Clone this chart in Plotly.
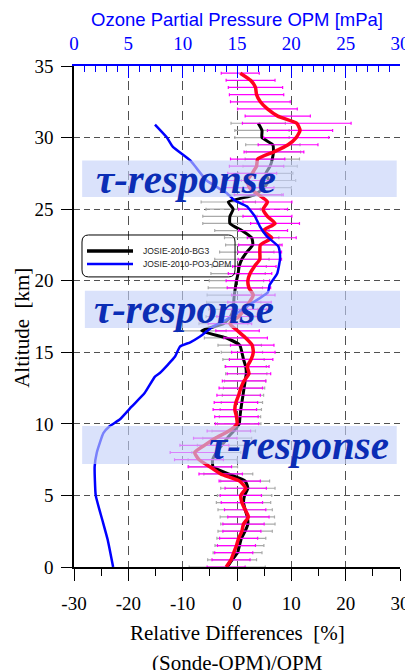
import plotly.graph_objects as go

# ---------------- data ----------------
# Relative differences (Sonde-OPM)/OPM [%] of the second (red) sonde
RED_ALT = [0.0, 0.5, 1.0, 1.5, 2.0, 2.5, 3.0, 3.5, 4.0, 4.5, 5.0, 5.5, 6.0, 6.5, 7.0, 7.5, 8.0, 8.5, 9.0, 9.5,
           10.0, 10.5, 11.0, 11.5, 12.0, 12.5, 13.0, 13.5, 14.0, 14.5, 15.0, 15.5, 16.0, 16.5, 17.0, 17.5, 18.0, 18.5, 19.0, 19.5,
           20.0, 20.5, 21.0, 21.5, 22.0, 22.5, 23.0, 23.5, 24.0, 24.5, 25.0, 25.5, 26.0, 26.5, 27.0, 27.5, 28.0, 28.5, 29.0, 29.5,
           30.0, 30.5, 31.0, 31.5, 32.0, 32.5, 33.0, 33.5, 34.0, 34.5]
RED_DIFF = [-2.0, -1.1, -0.6, -0.1, 0.3, 0.9, 1.2, 2.1, 1.5, 0.9, 0.7, 1.6, 0.5, -3.0, -5.0, -7.0, -7.8, -6.0, -4.0, -1.5,
            0.0, -0.1, -0.4, -0.2, 0.3, 0.7, 1.3, 2.2, 1.9, 2.6, 3.0, 2.8, 1.6, 0.1, -1.3, 0.3, 1.4, 2.3, 3.0, 2.2,
            2.0, 2.4, 3.2, 4.2, 4.2, 4.3, 6.4, 4.8, 7.0, 5.6, 4.8, 5.6, 4.0, 2.3, 1.9, 2.8, 3.6, 3.8, 6.8, 9.4,
            10.9, 11.6, 11.0, 7.5, 5.6, 4.3, 3.6, 3.4, 2.5, 0.6]
RED_ERR = [3.5, 3.5, 3.5, 3.5, 3.5, 3.5, 3.8, 3.8, 3.8, 3.8, 3.8, 3.8, 3.8, 4.0, 4.0, 4.5, 4.5, 4.5, 4.0, 4.0,
           4.0, 4.0, 4.0, 4.0, 4.0, 4.0, 4.0, 4.0, 4.0, 4.0, 4.0, 4.0, 4.0, 4.0, 4.0, 4.0, 4.0, 4.0, 4.0, 4.0,
           4.0, 4.0, 4.0, 4.0, 4.0, 4.0, 4.5, 4.5, 4.5, 4.5, 4.5, 4.5, 4.5, 4.5, 4.5, 4.5, 5.0, 5.0, 5.5, 5.5,
           6.0, 6.0, 10.0, 6.0, 5.5, 5.5, 5.0, 5.0, 4.5, 3.5]

# JOSIE-2010-BG3 relative differences [%]
BG3_ALT = [0.0, 0.5, 1.0, 1.5, 2.0, 2.5, 3.0, 3.5, 4.0, 4.5, 5.0, 5.5, 6.0, 6.5, 7.0, 7.5, 8.0, 8.5, 9.0, 9.5,
           10.0, 10.5, 11.0, 11.5, 12.0, 12.5, 13.0, 13.5, 14.0, 14.5, 15.0, 15.5, 16.0, 16.5, 17.0, 17.5, 18.0, 18.5, 19.0, 19.5,
           20.0, 20.5, 21.0, 21.5, 22.0, 22.5, 23.0, 23.5, 24.0, 24.5, 25.0, 25.5, 26.0, 26.5, 27.0, 27.5, 28.0, 28.5, 29.0, 29.5,
           30.0, 30.5, 31.0]
BG3_DIFF = [-1.8, -0.9, 0.1, 0.45, 0.8, 1.5, 2.0, 1.9, 1.5, 1.2, 1.4, 2.0, 1.5, -1.6, -4.4, -4.5, -3.8, -2.8, -1.8, -0.6,
            0.4, 0.55, 0.7, 0.9, 1.1, 1.3, 1.5, 1.7, 1.6, 1.2, 0.9, 0.5, -2.0, -6.5, -2.5, -1.2, -0.7, -0.6, -0.5, -0.3,
            -0.1, 0.2, 0.4, 0.9, 1.8, 2.9, 2.7, 0.9, -1.3, -1.3, -0.7, -1.6, 3.2, 5.0, 5.8, 5.3, 6.1, 6.5, 6.7, 6.6,
            4.6, 4.6, 3.9]
BG3_ERR = [7.0, 4.5, 4.5, 4.5, 4.5, 5.0, 5.0, 5.0, 5.0, 5.0, 5.0, 5.0, 4.5, 4.5, 4.5, 4.5, 4.5, 4.5, 4.5, 4.0,
           4.0, 3.8, 3.8, 3.8, 3.8, 3.8, 3.8, 3.8, 3.8, 3.8, 3.8, 4.0, 4.0, 4.5, 4.5, 4.5, 4.5, 5.0, 5.0, 5.0,
           5.0, 5.0, 5.0, 5.0, 5.0, 5.0, 5.0, 5.0, 5.0, 5.0, 5.0, 5.0, 5.0, 5.0, 5.0, 5.0, 5.0, 5.0, 5.0, 5.0,
           5.0, 5.0, 5.0]

# Ozone partial pressure OPM [mPa]
OPM_ALT = [0.0, 1.9, 3.3, 5.0, 7.0, 8.0, 9.35, 9.85, 10.3, 11.2, 12.15, 13.3, 13.55, 14.7, 15.4, 15.7, 16.1, 16.8,
           17.4, 18.2, 19.2, 19.7, 20.5, 21.45, 21.9, 22.4, 23.1, 23.8, 24.5, 25.2, 25.6, 26.1, 27.0, 28.4, 29.35,
           30.0, 30.9]
OPM_PO3 = [3.6, 3.1, 2.6, 2.0, 1.9, 2.1, 2.7, 3.3, 4.2, 5.3, 6.5, 7.45, 7.9, 9.3, 9.75, 10.7, 11.6, 12.8,
           14.35, 15.9, 17.85, 18.0, 18.7, 18.95, 18.95, 18.8, 17.75, 17.1, 16.65, 15.9, 14.8, 14.1, 12.2, 10.7, 9.1,
           8.55, 7.45]

X_TICKS = [-30, -20, -10, 0, 10, 20, 30]
X2_TICKS = [0, 5, 10, 15, 20, 25, 30]
Y_TICKS = [0, 5, 10, 15, 20, 25, 30, 35]

# tau-response regions (x range in %, altitude range in km) and label centre
TAU_BOXES = [
    dict(x0=-28.5, x1=29.4, y0=25.85, y1=28.4, tx=-9.3),
    dict(x0=-28.0, x1=30.0, y0=16.7, y1=19.3, tx=-9.7),
    dict(x0=-28.5, x1=29.4, y0=7.2, y1=9.85, tx=11.4),
]

SERIF = "Liberation Serif, Times New Roman, DejaVu Serif, serif"
SANS = "Liberation Sans, Arial, sans-serif"
BLUE = "#0000ff"

fig = go.Figure()

fig.add_trace(go.Scatter(
    x=BG3_DIFF, y=BG3_ALT, mode="markers",
    marker=dict(size=2, color="rgba(0,0,0,0)"),
    error_x=dict(type="data", array=BG3_ERR, color="#a9a9a9", thickness=1.2, width=1.5),
    showlegend=False, hoverinfo="skip"))
fig.add_trace(go.Scatter(
    x=BG3_DIFF, y=BG3_ALT, mode="lines",
    line=dict(color="black", width=3, shape="spline", smoothing=0.5),
    name="JOSIE-2010-BG3", showlegend=False))
fig.add_trace(go.Scatter(
    x=RED_DIFF, y=RED_ALT, mode="markers",
    marker=dict(size=2, color="rgba(0,0,0,0)"),
    error_x=dict(type="data", array=RED_ERR, color="#ff00ff", thickness=1.2, width=1.5),
    showlegend=False, hoverinfo="skip"))
fig.add_trace(go.Scatter(
    x=RED_DIFF, y=RED_ALT, mode="lines",
    line=dict(color="#ff0020", width=3.5, shape="spline", smoothing=0.5),
    showlegend=False))
fig.add_trace(go.Scatter(
    x=OPM_PO3, y=OPM_ALT, mode="lines", xaxis="x2",
    line=dict(color=BLUE, width=2.5, shape="spline", smoothing=0.4),
    name="JOSIE-2010-PO3-OPM", showlegend=False))

shapes = []
annotations = []
for b in TAU_BOXES:
    shapes.append(dict(type="rect", xref="x", yref="y", x0=b["x0"], x1=b["x1"], y0=b["y0"], y1=b["y1"],
                       fillcolor="rgba(195,208,248,0.62)", line=dict(width=0), layer="above"))
    annotations.append(dict(xref="x", yref="y", x=b["tx"], y=(b["y0"] + b["y1"]) / 2,
                            text="<b><i>τ-response</i></b>", showarrow=False,
                            font=dict(family=SERIF, size=41, color="#0b2db5"),
                            xanchor="center", yanchor="middle"))

# legend (rounded box, line samples, labels)
lx0, lx1, ly0, ly1 = 0.0245, 0.494, 0.579, 0.6627
rx, ry = 0.02, 0.014
path = (f"M{lx0+rx},{ly1} L{lx1-rx},{ly1} Q{lx1},{ly1} {lx1},{ly1-ry} L{lx1},{ly0+ry} Q{lx1},{ly0} {lx1-rx},{ly0} "
        f"L{lx0+rx},{ly0} Q{lx0},{ly0} {lx0},{ly0+ry} L{lx0},{ly1-ry} Q{lx0},{ly1} {lx0+rx},{ly1} Z")
shapes.append(dict(type="path", xref="paper", yref="paper", path=path, line=dict(color="black", width=1)))
for yy, col, w, label in [(0.6307, "black", 3.5, "JOSIE-2010-BG3"), (0.6048, BLUE, 2.5, "JOSIE-2010-PO3-OPM")]:
    shapes.append(dict(type="line", xref="paper", yref="paper", x0=0.0399, x1=0.181, y0=yy, y1=yy,
                       line=dict(color=col, width=w)))
    annotations.append(dict(xref="paper", yref="paper", x=0.2055, y=yy, text=label, showarrow=False,
                            xanchor="left", yanchor="middle", font=dict(family=SANS, size=8.5, color="#222")))

# axis titles
annotations += [
    dict(xref="paper", yref="paper", x=0.5, y=1.092, text="Ozone Partial Pressure OPM [mPa]", showarrow=False,
         font=dict(family=SANS, size=18.5, color=BLUE), xanchor="center", yanchor="middle"),
    dict(xref="paper", yref="paper", x=0.5, y=-0.1317, text="Relative Differences \u00a0[%]", showarrow=False,
         font=dict(family=SERIF, size=21, color="black"), xanchor="center", yanchor="middle"),
    dict(xref="paper", yref="paper", x=0.5, y=-0.1916, text="(Sonde-OPM)/OPM", showarrow=False,
         font=dict(family=SERIF, size=21, color="black"), xanchor="center", yanchor="middle"),
    dict(xref="paper", yref="paper", x=-0.16, y=0.477, text="Altitude \u00a0[km]", showarrow=False, textangle=-90,
         font=dict(family=SERIF, size=21, color="black"), xanchor="center", yanchor="middle"),
]

grid_col = "#505050"
# the page body has an 8px margin, so the figure is offset by 8px
fig.update_layout(
    width=405, height=662,
    margin=dict(l=66, r=13, t=58, b=103, autoexpand=False),
    paper_bgcolor="white", plot_bgcolor="white",
    showlegend=False,
    xaxis=dict(range=[-30, 30], tickmode="array", tickvals=X_TICKS, ticktext=[str(v) for v in X_TICKS],
               ticks="outside", ticklen=12, tickwidth=1.2, tickcolor="black",
               showline=True, linecolor="black", linewidth=1.5, automargin=False,
               showgrid=True, gridcolor=grid_col, gridwidth=1.3, griddash="9px,6px", zeroline=False,
               minor=dict(tick0=-30, dtick=5, ticks="outside", ticklen=7, tickcolor="black", showgrid=False),
               tickfont=dict(family=SERIF, size=19, color="black"), ticklabelstandoff=6,
               ticklabeloverflow="allow"),
    xaxis2=dict(range=[0, 30], overlaying="x", side="top", anchor="y", tickmode="array", tickvals=X2_TICKS,
                ticks="inside", ticklen=12, tickwidth=1.2, tickcolor=BLUE, automargin=False,
                showline=True, linecolor=BLUE, linewidth=2, showgrid=False, zeroline=False,
                minor=dict(tick0=0, dtick=1, ticks="inside", ticklen=6, tickcolor=BLUE, showgrid=False),
                tickfont=dict(family=SERIF, size=19, color=BLUE), ticklabelstandoff=6,
                ticklabeloverflow="allow"),
    yaxis=dict(range=[0, 35], tickmode="array", tickvals=Y_TICKS,
               ticks="outside", ticklen=11, tickwidth=1.2, tickcolor="black",
               showline=True, linecolor="black", linewidth=1.5, automargin=False,
               showgrid=True, gridcolor=grid_col, gridwidth=1.3, griddash="6px,4px", zeroline=False,
               tickfont=dict(family=SERIF, size=19, color="black"), ticklabelstandoff=4),
    shapes=shapes,
    annotations=annotations,
)

fig.write_html("out.html")
